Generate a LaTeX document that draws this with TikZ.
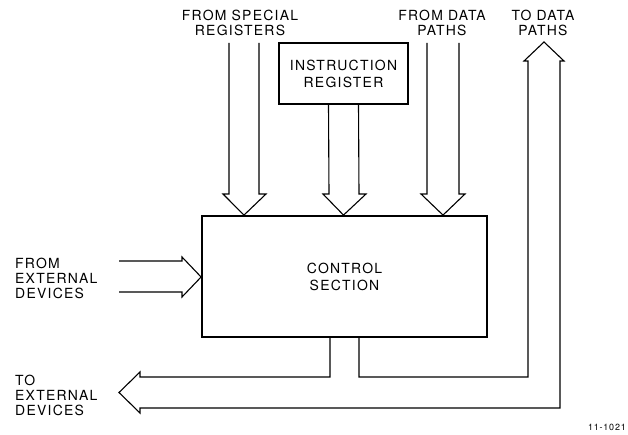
\documentclass[tikz,border=0pt]{standalone}
\usepackage{fontspec}
\setmainfont{TeX Gyre Heros}[LetterSpace=9]
\tikzset{
  blk/.style={draw, line width=1.8bp, inner sep=0, align=center,
    font=\fontsize{14}{17}\selectfont},
  lbl/.style={inner sep=0, font=\fontsize{14}{15}\selectfont},
  bus/.style={line width=1.1bp, line join=miter}
}
\begin{document}
\begin{tikzpicture}[x=1bp, y=-1bp]
      \useasboundingbox (0,0) rectangle (628,435);
      % BLOCKS
      \node[blk, minimum width=285bp, minimum height=121bp] (ctrl) at (344.5,276.5) {CONTROL\\SECTION};
      \node[blk, minimum width=129bp, minimum height=61bp] (ir) at (343.5,73.5) {INSTRUCTION\\REGISTER};
      % LABELS
      \node[lbl, align=center] (spec) at (240,22.5) {FROM SPECIAL\\REGISTERS};
      \node[lbl, align=center] (dpin) at (442,22.5) {FROM DATA\\PATHS};
      \node[lbl, align=center] (dpout) at (543,22.5) {TO DATA\\PATHS};
      \node[lbl, align=left, anchor=west] (extin) at (15,278) {FROM\\EXTERNAL\\DEVICES};
      \node[lbl, align=left, anchor=west] (extout) at (15,395) {TO\\EXTERNAL\\DEVICES};
      \node[inner sep=0, anchor=east, font=\fontsize{9}{10}\selectfont] (fig) at (626,427) {11-1021};
      % TOP BUSES
      \draw[bus] (229,43) -- (229,194) -- (223,194) -- (244,0 |- ctrl.north) -- (266,194) -- (259,194) -- (259,43);
      \draw[bus] ([xshift=-15bp]ir.south) -- (329,194) -- (323,194) -- (ir.south |- ctrl.north) -- (366,194) -- (359,194) -- ([xshift=15bp]ir.south);
      \draw[bus] (427,43) -- (427,194) -- (421,194) -- (443,0 |- ctrl.north) -- (465,194) -- (459,194) -- (459,43);
      % LEFT BUS
      \draw[bus] (119,261) -- (182,261) -- (182,257) -- (ctrl.west |- 0,277) -- (182,297) -- (182,292) -- (119,292);
      % OUTPUT BUSES
      \draw[bus] (330,0 |- ctrl.south) -- (330,377) -- (140,377) -- (140,372) -- (119,392.5) -- (140,413) -- (140,408)
        -- (560,408) -- (560,61) -- (564,61) -- (544,42) -- (524,61) -- (528,61) -- (528,377) -- (359,377) -- (359,0 |- ctrl.south);
\end{tikzpicture}
\end{document}
